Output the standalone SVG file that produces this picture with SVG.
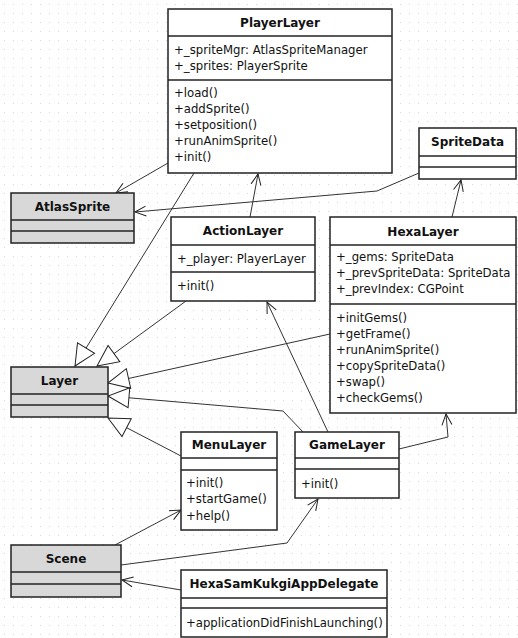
<svg xmlns="http://www.w3.org/2000/svg" width="518" height="638" viewBox="0 0 518 638">
<defs>
<pattern id="grid" width="9" height="9" patternUnits="userSpaceOnUse"><rect x="4" y="4" width="1" height="1" fill="#d8d8d8"/></pattern>
<marker id="open" markerUnits="userSpaceOnUse" markerWidth="14" markerHeight="12" viewBox="0 0 14 12" refX="12" refY="6" orient="auto"><path d="M1,1 L12,6 L1,11" fill="none" stroke="#222" stroke-width="1"/></marker>
<marker id="gen" markerUnits="userSpaceOnUse" markerWidth="24" markerHeight="22" viewBox="0 0 24 22" refX="22" refY="11" orient="auto"><path d="M22,11 L1,1 L1,21 Z" fill="#fff" stroke="#222" stroke-width="1"/></marker>
</defs>
<style>
.box{fill:#fff;stroke:#222;stroke-width:1.5}
.gray{fill:#d8d8d8}
.sep{stroke:#222;stroke-width:1.5}
.t{font-family:"DejaVu Sans",sans-serif;font-size:12px;font-weight:bold;text-anchor:middle;fill:#111}
.m{font-family:"DejaVu Sans",sans-serif;font-size:11.7px;fill:#111}
.c{fill:none;stroke:#333;stroke-width:1}
</style>
<rect width="518" height="638" fill="#fff"/>
<rect width="518" height="638" fill="url(#grid)"/>
<g id="connectors">
<path class="c" d="M168,163 L116,193" marker-end="url(#open)"/>
<path class="c" d="M419,173 L377,191 L135,212" marker-end="url(#open)"/>
<path class="c" d="M194,173 L75,366" marker-end="url(#gen)"/>
<path class="c" d="M186,301 L97,366" marker-end="url(#gen)"/>
<path class="c" d="M330,334 L108,383" marker-end="url(#gen)"/>
<path class="c" d="M303,432 L283,411 L108,396" marker-end="url(#gen)"/>
<path class="c" d="M181,456 L108,418" marker-end="url(#gen)"/>
<path class="c" d="M250,217 L258,174" marker-end="url(#open)"/>
<path class="c" d="M452,217 L461,180" marker-end="url(#open)"/>
<path class="c" d="M328,432 L267,302" marker-end="url(#open)"/>
<path class="c" d="M399,449 L448,437 L446,414" marker-end="url(#open)"/>
<path class="c" d="M115,545 L181,510" marker-end="url(#open)"/>
<path class="c" d="M121,565 L287,543 L318,499" marker-end="url(#open)"/>
<path class="c" d="M181,590 L122,580" marker-end="url(#open)"/>
</g>
<g id="PlayerLayer">
<rect class="box" x="168" y="9" width="224" height="164"/>
<line class="sep" x1="168" y1="36" x2="392" y2="36"/>
<line class="sep" x1="168" y1="80" x2="392" y2="80"/>
<text class="t" x="280" y="27">PlayerLayer</text>
<text class="m" x="174" y="54">+_spriteMgr: AtlasSpriteManager</text>
<text class="m" x="174" y="70">+_sprites: PlayerSprite</text>
<text class="m" x="174" y="97">+load()</text>
<text class="m" x="174" y="113">+addSprite()</text>
<text class="m" x="174" y="129">+setposition()</text>
<text class="m" x="174" y="145">+runAnimSprite()</text>
<text class="m" x="174" y="161">+init()</text>
</g>
<g id="AtlasSprite">
<rect class="box gray" x="11" y="193" width="123" height="50"/>
<line class="sep" x1="11" y1="220" x2="134" y2="220"/>
<line class="sep" x1="11" y1="231" x2="134" y2="231"/>
<text class="t" x="72.5" y="211">AtlasSprite</text>
</g>
<g id="SpriteData">
<rect class="box" x="419" y="128" width="97" height="51"/>
<line class="sep" x1="419" y1="156" x2="516" y2="156"/>
<line class="sep" x1="419" y1="167" x2="516" y2="167"/>
<text class="t" x="467.5" y="146">SpriteData</text>
</g>
<g id="ActionLayer">
<rect class="box" x="171" y="217" width="144" height="84"/>
<line class="sep" x1="171" y1="245" x2="315" y2="245"/>
<line class="sep" x1="171" y1="272" x2="315" y2="272"/>
<text class="t" x="243" y="235">ActionLayer</text>
<text class="m" x="177" y="263">+_player: PlayerLayer</text>
<text class="m" x="177" y="290">+init()</text>
</g>
<g id="HexaLayer">
<rect class="box" x="330" y="217" width="186" height="196"/>
<line class="sep" x1="330" y1="245" x2="516" y2="245"/>
<line class="sep" x1="330" y1="304" x2="516" y2="304"/>
<text class="t" x="423" y="236">HexaLayer</text>
<text class="m" x="336" y="261">+_gems: SpriteData</text>
<text class="m" x="336" y="277">+_prevSpriteData: SpriteData</text>
<text class="m" x="336" y="293">+_prevIndex: CGPoint</text>
<text class="m" x="336" y="322">+initGems()</text>
<text class="m" x="336" y="338">+getFrame()</text>
<text class="m" x="336" y="354">+runAnimSprite()</text>
<text class="m" x="336" y="370">+copySpriteData()</text>
<text class="m" x="336" y="386">+swap()</text>
<text class="m" x="336" y="402">+checkGems()</text>
</g>
<g id="Layer">
<rect class="box gray" x="11" y="367" width="97" height="50"/>
<line class="sep" x1="11" y1="394" x2="108" y2="394"/>
<line class="sep" x1="11" y1="405" x2="108" y2="405"/>
<text class="t" x="59.5" y="385">Layer</text>
</g>
<g id="MenuLayer">
<rect class="box" x="181" y="432" width="96" height="98"/>
<line class="sep" x1="181" y1="458" x2="277" y2="458"/>
<line class="sep" x1="181" y1="470" x2="277" y2="470"/>
<text class="t" x="229" y="449">MenuLayer</text>
<text class="m" x="186" y="487">+init()</text>
<text class="m" x="186" y="503">+startGame()</text>
<text class="m" x="186" y="520">+help()</text>
</g>
<g id="GameLayer">
<rect class="box" x="295" y="432" width="104" height="66"/>
<line class="sep" x1="295" y1="458" x2="399" y2="458"/>
<line class="sep" x1="295" y1="469" x2="399" y2="469"/>
<text class="t" x="347" y="449">GameLayer</text>
<text class="m" x="301" y="488">+init()</text>
</g>
<g id="Scene">
<rect class="box gray" x="11" y="545" width="110" height="52"/>
<line class="sep" x1="11" y1="572" x2="121" y2="572"/>
<line class="sep" x1="11" y1="584" x2="121" y2="584"/>
<text class="t" x="66" y="563">Scene</text>
</g>
<g id="HexaSamKukgiAppDelegate">
<rect class="box" x="181" y="570" width="206" height="67"/>
<line class="sep" x1="181" y1="598" x2="387" y2="598"/>
<line class="sep" x1="181" y1="608" x2="387" y2="608"/>
<text class="t" x="284" y="588">HexaSamKukgiAppDelegate</text>
<text class="m" x="186" y="627">+applicationDidFinishLaunching()</text>
</g>
</svg>
